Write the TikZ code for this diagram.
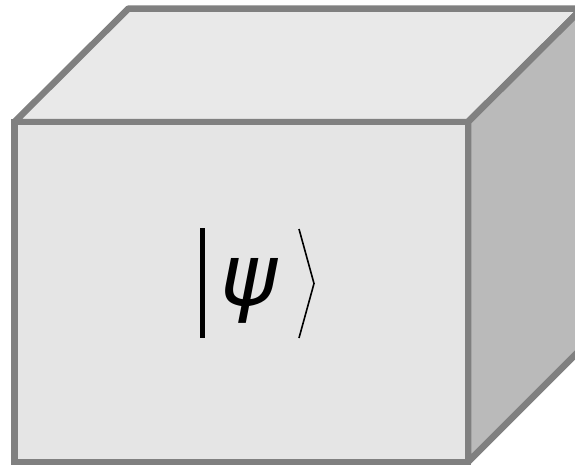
\documentclass[tikz,border=0pt]{standalone}
\usepackage{fontspec}
\newfontfamily\psifont{DejaVu Sans}
\definecolor{edge}{HTML}{808080}
\definecolor{frontc}{HTML}{E5E5E5}
\definecolor{topc}{HTML}{E9E9E9}
\definecolor{sidec}{HTML}{BABABA}
\begin{document}
\begin{tikzpicture}[x=1pt,y=-1pt,
  face/.style={draw=edge,line width=6.5pt,line join=bevel}]
\useasboundingbox (0,0) rectangle (575,466);
\begin{scope}
\clip (0,0) rectangle (575,466);
% top face
\filldraw[face,fill=topc] (14.5,122) -- (128.5,8.5) -- (582,8.5) -- (468,122) -- cycle;
% right face
\filldraw[face,fill=sidec] (468,122) -- (582,8.5) -- (582,348) -- (468,462) -- cycle;
% front face
\filldraw[face,fill=frontc,line join=miter] (14.5,122) rectangle (468,462);
\end{scope}
% ket
\draw[line width=5pt] (202.5,228) -- (202.5,338);
\node[font=\psifont\itshape\fontsize{86}{86}\selectfont,inner sep=0pt,anchor=center] (psi) at (249,291) {ψ};
\draw[line width=1.6pt] (299,229) -- (314,283.5) -- (299,338);
\end{tikzpicture}
\end{document}
